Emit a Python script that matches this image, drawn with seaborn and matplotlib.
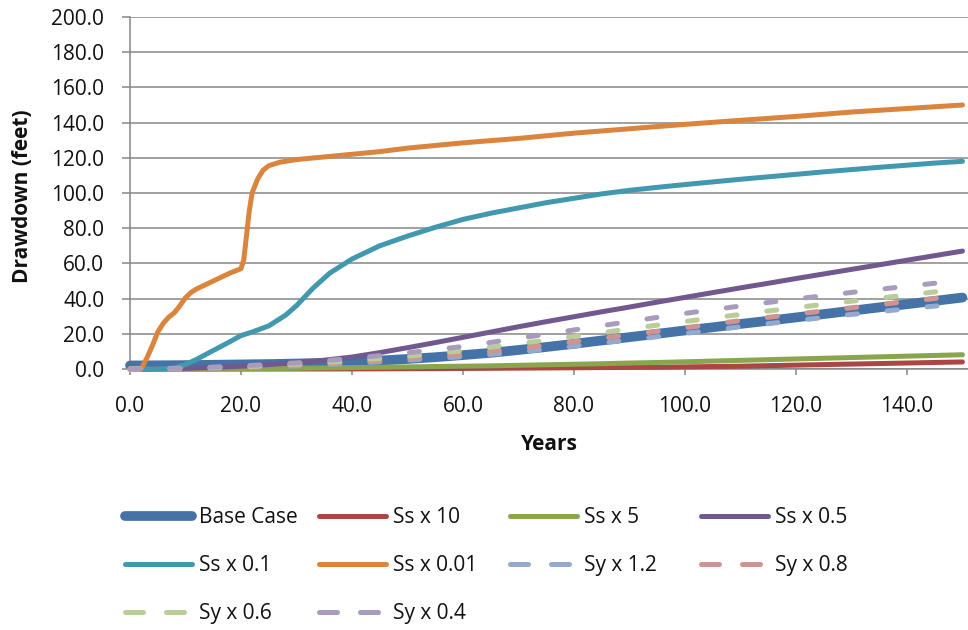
import matplotlib
matplotlib.use("Agg")
import matplotlib.pyplot as plt
from matplotlib.lines import Line2D
from matplotlib.ticker import FixedLocator, FormatStrFormatter
import seaborn as sns

# ---- data: drawdown (feet) versus time (years) for each sensitivity run ----
years = [0, 5, 10, 15, 20, 25, 30, 35, 40, 45, 50, 55, 60, 65, 70, 75, 80,
         85, 90, 95, 100, 105, 110, 115, 120, 125, 130, 135, 140, 145, 150]

base_case = [2.0, 2.1, 2.2, 2.4, 2.6, 2.8, 3.1, 3.5, 4.0, 4.8, 5.7, 6.7, 7.9,
             9.2, 10.8, 12.5, 14.3, 16.2, 18.1, 20.0, 21.9, 23.7, 25.6, 27.4,
             29.3, 31.2, 33.1, 35.0, 36.8, 38.7, 40.6]
ss_x10 = [0.0, 0.0, 0.0, 0.0, 0.0, 0.0, 0.0, 0.0, 0.05, 0.1, 0.15, 0.2, 0.3,
          0.4, 0.5, 0.6, 0.7, 0.8, 0.9, 1.0, 1.2, 1.4, 1.6, 1.9, 2.2, 2.5,
          2.8, 3.1, 3.4, 3.7, 4.0]
ss_x5 = [0.0, 0.0, 0.0, 0.0, 0.1, 0.2, 0.4, 0.6, 0.8, 1.0, 1.2, 1.4, 1.6,
         1.8, 2.1, 2.4, 2.7, 3.0, 3.4, 3.7, 4.1, 4.5, 4.9, 5.3, 5.7, 6.1,
         6.5, 6.9, 7.3, 7.7, 8.1]
ss_x05 = [0.0, 0.1, 0.4, 0.9, 1.6, 2.5, 3.6, 5.0, 6.8, 9.3, 12.1, 15.0, 18.0,
          21.0, 24.0, 26.9, 29.7, 32.5, 35.2, 38.0, 40.7, 43.4, 46.1, 48.7,
          51.4, 54.0, 56.6, 59.2, 61.8, 64.4, 67.0]

years_ss01 = [0, 5, 8, 10, 12, 15, 18, 20, 22, 25, 28, 30, 33, 36, 40, 45, 50,
              55, 60, 65, 70, 75, 80, 85, 90, 95, 100, 105, 110, 115, 120,
              125, 130, 135, 140, 145, 150]
ss_x01 = [0.0, 0.0, 0.5, 2.5, 5.5, 10.5, 15.5, 19.0, 21.0, 24.5, 30.5, 36.0,
          46.0, 54.5, 62.5, 70.0, 75.5, 80.5, 85.0, 88.5, 91.5, 94.5, 97.0,
          99.5, 101.5, 103.2, 104.8, 106.3, 107.8, 109.2, 110.6, 112.0, 113.3,
          114.6, 115.8, 117.0, 118.0]

years_ss001 = [0, 2, 3, 4, 5, 6, 7, 8, 9, 10, 11, 12, 14, 16, 18, 20, 20.5, 21,
               21.5, 22, 23, 24, 25, 27, 30, 35, 40, 45, 50, 55, 60, 70, 80,
               90, 100, 110, 120, 130, 140, 150]
ss_x001 = [0.0, 0.0, 6.0, 13.0, 21.0, 26.0, 29.5, 32.0, 36.0, 40.5, 43.5, 45.5,
           48.5, 51.5, 54.5, 57.0, 62.0, 76.0, 90.0, 100.0, 108.0, 113.0,
           115.5, 117.5, 119.0, 120.5, 122.0, 123.5, 125.5, 127.0, 128.5,
           131.0, 134.0, 136.5, 139.0, 141.3, 143.5, 146.0, 148.0, 150.0]

years_sy = [0, 10, 20, 30, 40, 50, 60, 70, 80, 90, 100, 110, 120, 130, 140, 150]
sy_x12 = [0.0, 0.2, 0.8, 1.8, 3.2, 5.0, 7.0, 9.6, 13.0, 16.5, 20.2, 24.0,
          27.5, 31.0, 34.2, 37.3]
sy_x08 = [0.0, 0.3, 1.0, 2.2, 3.9, 6.0, 8.4, 11.6, 15.5, 19.4, 23.4, 27.5,
          31.2, 34.8, 38.3, 41.8]
sy_x06 = [0.0, 0.4, 1.3, 2.7, 4.7, 7.3, 10.4, 14.3, 18.5, 22.8, 27.0, 31.0,
          34.9, 38.5, 42.0, 45.6]
sy_x04 = [0.0, 0.5, 1.7, 3.5, 6.0, 9.2, 12.8, 17.4, 22.2, 27.0, 31.6, 35.8,
          39.8, 43.5, 47.0, 50.4]

x_ticks = [0, 20, 40, 60, 80, 100, 120, 140]
y_ticks = [0, 20, 40, 60, 80, 100, 120, 140, 160, 180, 200]

# ---- styling ----
sns.set_theme(style="white")
plt.rcParams["font.family"] = ["Open Sans", "DejaVu Sans"]

GRID = "#868686"
TXT = "#111111"
FS = 15

fig = plt.figure(figsize=(9.68, 6.30), dpi=100)
ax = fig.add_axes([130 / 968, 1 - 369 / 630, 838 / 968, 352 / 630])

solid = dict(solid_capstyle="round", solid_joinstyle="round")
dashed = dict(dash_capstyle="round", dash_joinstyle="round", linestyle=(0, (2, 6)))

series = [
    ("Base Case", years, base_case, "#4572A7", 7.0, solid),
    ("Ss x 10", years, ss_x10, "#AA4643", 3.6, solid),
    ("Ss x 5", years, ss_x5, "#89A54E", 3.6, solid),
    ("Ss x 0.5", years, ss_x05, "#71588F", 3.6, solid),
    ("Ss x 0.1", years_ss01, ss_x01, "#4198AF", 3.6, solid),
    ("Ss x 0.01", years_ss001, ss_x001, "#DB843D", 3.6, solid),
    ("Sy x 1.2", years_sy, sy_x12, "#93A9CF", 3.6, dashed),
    ("Sy x 0.8", years_sy, sy_x08, "#D19392", 3.6, dashed),
    ("Sy x 0.6", years_sy, sy_x06, "#B9CD96", 3.6, dashed),
    ("Sy x 0.4", years_sy, sy_x04, "#A99BBD", 3.6, dashed),
]

for z, (name, xs, ys, color, lw, style) in enumerate(series):
    sns.lineplot(x=xs, y=ys, ax=ax, color=color, lw=lw, label=name,
                 legend=False, clip_on=False, zorder=3 + z * 0.01, **style)

ax.set_xlim(0, 151)
ax.set_ylim(0, 200)
ax.xaxis.set_major_locator(FixedLocator(x_ticks))
ax.yaxis.set_major_locator(FixedLocator(y_ticks))
ax.xaxis.set_major_formatter(FormatStrFormatter("%.1f"))
ax.yaxis.set_major_formatter(FormatStrFormatter("%.1f"))

ax.grid(False)
ax.yaxis.grid(True, color=GRID, lw=1.1, zorder=0)
ax.set_axisbelow(True)
for side in ("top", "right"):
    ax.spines[side].set_visible(False)
for side in ("left", "bottom"):
    ax.spines[side].set_color(GRID)
    ax.spines[side].set_linewidth(1.1)
    ax.spines[side].set_zorder(1)

ax.tick_params(axis="x", direction="out", length=4.5, width=1.1, color=GRID,
               pad=15, labelsize=FS, labelcolor=TXT, bottom=True)
ax.tick_params(axis="y", direction="out", length=5.5, width=1.1, color=GRID,
               pad=13, labelsize=FS, labelcolor=TXT, left=True)

ax.set_xlabel("Years", fontsize=FS, fontweight="bold", color=TXT)
ax.set_ylabel("Drawdown (feet)", fontsize=FS, fontweight="bold", color=TXT)
ax.xaxis.set_label_coords(0.5, (369 - 434) / 352)
ax.yaxis.set_label_coords((33 - 130) / 838, 0.49)

# ---- legend: four columns laid out below the plot ----
def handle(name):
    for n, _, _, color, lw, style in series:
        if n == name:
            if style is dashed:
                return Line2D([], [], color=color, lw=lw, dash_capstyle="round",
                              linestyle=(0, (3.6, 4.6)))
            return Line2D([], [], color=color, lw=lw, solid_capstyle="round")

columns = [
    (["Base Case", "Ss x 0.1", "Sy x 0.6"], 125),
    (["Ss x 10", "Ss x 0.01", "Sy x 0.4"], 318.5),
    (["Ss x 5", "Sy x 1.2"], 509.5),
    (["Ss x 0.5", "Sy x 0.8"], 700.5),
]
for names, x0 in columns:
    fig.legend([handle(n) for n in names], names, loc="upper left",
               bbox_to_anchor=(x0 / 968, 1 - 507 / 630), frameon=False,
               fontsize=FS, handlelength=3.22, handletextpad=0.35,
               labelspacing=1.3, borderpad=0, borderaxespad=0,
               labelcolor=TXT)

fig.savefig("out.png", dpi=100)
